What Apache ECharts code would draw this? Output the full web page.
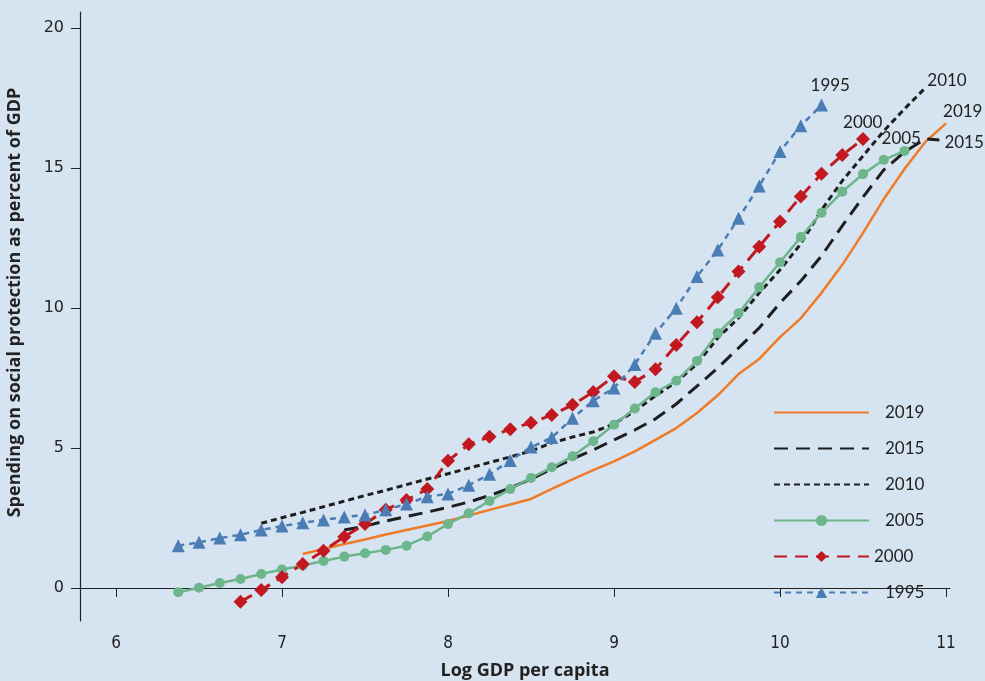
<!DOCTYPE html>
<html>
<head>
<meta charset="utf-8">
<script src="https://cdn.jsdelivr.net/npm/echarts@6/dist/echarts.min.js"></script>
<style>
html,body{margin:0;padding:0;background:#d6e3f1;}
#chart{width:985px;height:681px;}
</style>
</head>
<body>
<div id="chart"></div>
<script>
// Data (x = log GDP per capita, y = spending on social protection, % of GDP)
const x2019 = [7.125,7.25,7.375,7.5,7.625,7.75,7.875,8.0,8.125,8.25,8.375,8.5,8.625,8.75,8.875,9.0,9.125,9.25,9.375,9.5,9.625,9.75,9.875,10.0,10.125,10.25,10.375,10.5,10.625,10.75,10.875,11.0];
const y2019 = [1.21,1.39,1.57,1.73,1.91,2.07,2.23,2.39,2.59,2.79,2.98,3.18,3.54,3.88,4.21,4.52,4.88,5.29,5.71,6.25,6.88,7.64,8.18,8.96,9.63,10.54,11.54,12.68,13.89,14.96,15.93,16.59];

const x2015 = [7.375,7.5,7.625,7.75,7.875,8.0,8.125,8.25,8.375,8.5,8.625,8.75,8.875,9.0,9.125,9.25,9.375,9.5,9.625,9.75,9.875,10.0,10.125,10.25,10.375,10.5,10.625,10.75,10.875,10.96];
const y2015 = [2.07,2.21,2.39,2.55,2.71,2.88,3.07,3.30,3.57,3.89,4.25,4.61,4.93,5.29,5.64,6.04,6.57,7.21,7.86,8.57,9.29,10.18,10.96,11.86,12.93,13.96,14.93,15.57,16.04,16.0];

const x2010 = [6.875,7.0,7.125,7.25,7.375,7.5,7.625,7.75,7.875,8.0,8.125,8.25,8.375,8.5,8.625,8.75,8.875,9.0,9.125,9.25,9.375,9.5,9.625,9.75,9.875,10.0,10.125,10.25,10.375,10.5,10.625,10.75,10.875];
const y2010 = [2.31,2.51,2.70,2.90,3.10,3.30,3.49,3.69,3.89,4.08,4.28,4.48,4.68,4.89,5.18,5.39,5.57,5.86,6.32,6.86,7.36,8.0,8.93,9.64,10.54,11.36,12.29,13.5,14.54,15.43,16.32,17.11,17.86];

const x2005 = [6.375,6.5,6.625,6.75,6.875,7.0,7.125,7.25,7.375,7.5,7.625,7.75,7.875,8.0,8.125,8.25,8.375,8.5,8.625,8.75,8.875,9.0,9.125,9.25,9.375,9.5,9.625,9.75,9.875,10.0,10.125,10.25,10.375,10.5,10.625,10.75];
const y2005 = [-0.15,0.01,0.18,0.32,0.50,0.66,0.80,0.96,1.12,1.24,1.36,1.51,1.84,2.28,2.67,3.11,3.53,3.93,4.31,4.70,5.24,5.83,6.41,6.99,7.40,8.11,9.10,9.81,10.74,11.63,12.53,13.40,14.15,14.78,15.29,15.61];

const x2000 = [6.75,6.875,7.0,7.125,7.25,7.375,7.5,7.625,7.75,7.875,8.0,8.125,8.25,8.375,8.5,8.625,8.75,8.875,9.0,9.125,9.25,9.375,9.5,9.625,9.75,9.875,10.0,10.125,10.25,10.375,10.5];
const y2000 = [-0.49,-0.07,0.38,0.86,1.33,1.83,2.28,2.79,3.14,3.53,4.54,5.13,5.40,5.67,5.90,6.18,6.54,7.0,7.56,7.36,7.81,8.68,9.49,10.38,11.30,12.19,13.09,13.98,14.79,15.46,16.03];

const x1995 = [6.375,6.5,6.625,6.75,6.875,7.0,7.125,7.25,7.375,7.5,7.625,7.75,7.875,8.0,8.125,8.25,8.375,8.5,8.625,8.75,8.875,9.0,9.125,9.25,9.375,9.5,9.625,9.75,9.875,10.0,10.125,10.25];
const y1995 = [1.51,1.63,1.78,1.90,2.07,2.21,2.33,2.43,2.53,2.61,2.79,3.0,3.26,3.36,3.67,4.06,4.55,5.03,5.37,6.06,6.69,7.14,7.98,9.10,9.99,11.12,12.07,13.20,14.36,15.59,16.51,17.25];

const xTicks = [6,7,8,9,10,11];
const yTicks = [0,5,10,15,20];
const seriesNames = ['2019','2015','2010','2005','2000','1995'];

const pairs = (xs, ys) => xs.map((x, i) => [x, ys[i]]);

const labelFont = 'Lato, "Noto Sans", sans-serif';
const endLabelBase = {show: true, formatter: '{a}', color: '#222', fontSize: 17, fontFamily: labelFont, distance: 0};
const noMarker = {opacity: 0};

const chart = echarts.init(document.getElementById('chart'), null, {renderer: 'canvas'});
chart.setOption({
  backgroundColor: '#d6e3f1',
  animation: false,
  grid: {left: 80, right: 35, top: 12, bottom: 60, containLabel: false, outerBoundsMode: 'none'},
  xAxis: {
    type: 'value', min: 5.783, max: 11.024,
    splitLine: {show: false},
    axisLine: {lineStyle: {color: '#222', width: 1.2}},
    axisTick: {show: true, customValues: xTicks, length: 9, lineStyle: {color: '#222'}},
    axisLabel: {customValues: xTicks, margin: 14, color: '#222', fontSize: 17, fontFamily: '"Liberation Sans Narrow", "DejaVu Sans Condensed", sans-serif'},
    name: 'Log GDP per capita', nameLocation: 'middle', nameGap: 41,
    nameTextStyle: {fontSize: 18, fontWeight: 'bold', color: '#222', fontFamily: '"Open Sans", sans-serif', padding: [0, 0, 0, 20]}
  },
  yAxis: {
    type: 'value', min: -1.18, max: 20.57,
    splitLine: {show: false},
    axisLine: {show: true, lineStyle: {color: '#222', width: 1.2}},
    axisTick: {show: true, customValues: yTicks, length: 9, lineStyle: {color: '#222'}},
    axisLabel: {customValues: yTicks, margin: 16, color: '#222', fontSize: 16, fontFamily: '"DejaVu Sans", sans-serif'},
    name: 'Spending on social protection as percent of GDP', nameLocation: 'middle', nameGap: 56,
    nameTextStyle: {fontSize: 18, fontWeight: 'bold', color: '#222', fontFamily: '"Open Sans", sans-serif', padding: [0, 0, 0, 28]}
  },
  legend: {
    orient: 'vertical', left: 768, top: 399, itemWidth: 95, itemHeight: 14, itemGap: 19,
    selectedMode: false,
    textStyle: {fontSize: 17, color: '#222', fontFamily: labelFont, padding: [0, 0, 0, 11]},
    data: [
      {name: '2019', itemStyle: noMarker}, {name: '2015', itemStyle: noMarker}, {name: '2010', itemStyle: noMarker},
      {name: '2005'},
      {name: '2000', textStyle: {padding: [0, 0, 0, 0]}}, {name: '1995'}
    ]
  },
  series: [
    {name: seriesNames[0], type: 'line', data: pairs(x2019, y2019), showSymbol: false, symbol: 'none',
     lineStyle: {color: '#f07a25', width: 2.5}, itemStyle: {color: '#f07a25'},
     endLabel: Object.assign({}, endLabelBase, {offset: [-3, -12]})},
    {name: seriesNames[1], type: 'line', data: pairs(x2015, y2015), showSymbol: false, symbol: 'none',
     lineStyle: {color: '#1e1e1e', width: 3, type: [14, 8]}, itemStyle: {color: '#1e1e1e'},
     endLabel: Object.assign({}, endLabelBase, {offset: [5, 3]})},
    {name: seriesNames[2], type: 'line', data: pairs(x2010, y2010), showSymbol: false, symbol: 'none',
     lineStyle: {color: '#1e1e1e', width: 3, type: [6, 4]}, itemStyle: {color: '#1e1e1e'},
     endLabel: Object.assign({}, endLabelBase, {offset: [2, -7]})},
    {name: seriesNames[3], type: 'line', data: pairs(x2005, y2005), symbol: 'circle', symbolSize: 10,
     lineStyle: {color: '#6db58b', width: 2.5}, itemStyle: {color: '#6db58b'},
     endLabel: Object.assign({}, endLabelBase, {offset: [-23, -12]})},
    {name: seriesNames[4], type: 'line', data: pairs(x2000, y2000), symbol: 'diamond', symbolSize: 14,
     lineStyle: {color: '#c1191f', width: 3, type: [13, 8]}, itemStyle: {color: '#c1191f'},
     endLabel: Object.assign({}, endLabelBase, {offset: [-20, -17]})},
    {name: seriesNames[5], type: 'line', data: pairs(x1995, y1995), symbol: 'triangle', symbolSize: 13,
     lineStyle: {color: '#4a7db3', width: 2.5, type: [6, 5]}, itemStyle: {color: '#4a7db3'},
     endLabel: Object.assign({}, endLabelBase, {offset: [-11, -19]})}
  ]
});
</script>
</body>
</html>
